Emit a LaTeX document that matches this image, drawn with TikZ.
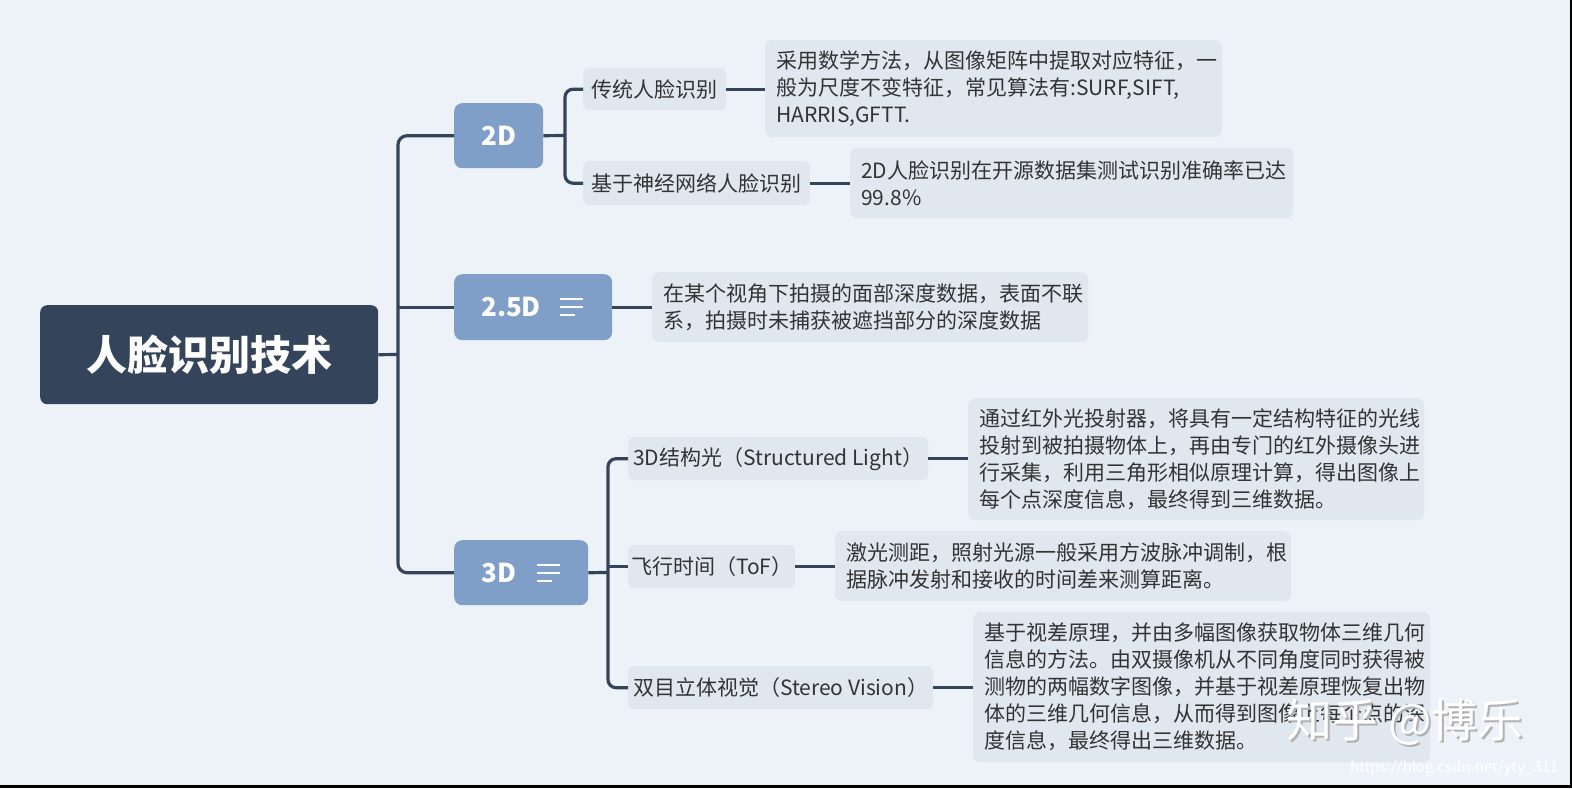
\documentclass[tikz,border=0pt]{standalone}
\usepackage{fontspec}
\usetikzlibrary{calc}
\setmainfont{Noto Sans CJK SC}
\definecolor{bgc}{HTML}{EDF2F9}
\definecolor{rootc}{HTML}{34455B}
\definecolor{lvlc}{HTML}{7F9FC8}
\definecolor{boxc}{HTML}{E1E7EF}
\definecolor{linec}{HTML}{34455B}
\definecolor{txtc}{HTML}{333333}
\tikzset{
  rootbox/.style={fill=rootc, rounded corners=7pt, text=white, font=\fontsize{41}{41}\selectfont\bfseries, anchor=north west, inner sep=0pt},
  lvlbox/.style={fill=lvlc, rounded corners=8pt, text=white, font=\fontsize{26}{26}\selectfont\bfseries, anchor=north west, inner sep=0pt},
  subbox/.style={fill=boxc, rounded corners=6pt, text=txtc, font=\fontsize{21}{27}\selectfont, anchor=north west, inner sep=0pt},
  descbox/.style={fill=boxc, rounded corners=7pt, text=txtc, font=\fontsize{21}{27}\selectfont, anchor=north west, inner xsep=11pt, inner ysep=0pt, align=left},
  conn/.style={draw=linec, line width=3.2pt},
  icon/.style={draw=white, line width=2pt},
}
\begin{document}
\begin{tikzpicture}[x=1pt,y=-1pt]
\fill[bgc] (0,0) rectangle (1572,788);
\useasboundingbox (0,0) rectangle (1572,788);
\fill[black] (0,785) rectangle (1572,788);
\fill[black] (1570,0) rectangle (1572,788);

% root
\node[rootbox, minimum width=338pt, minimum height=99pt] (root) at (40,305) {人脸识别技术};

% level 1
\node[lvlbox, minimum width=89pt, minimum height=65pt] (n2d) at (454,103) {2D};
\node[lvlbox, minimum height=66pt, inner xsep=27pt, text width=104pt, align=left] (n25) at (454,274) {2.5D};
\node[lvlbox, minimum height=65pt, inner xsep=27pt, text width=80pt, align=left] (n3d) at (454,540) {3D};

% icons
\draw[icon] ($(n25.east)+(-52,-8)$) -- ++(23,0);
\draw[icon] ($(n25.east)+(-52,0)$) -- ++(23,0);
\draw[icon] ($(n25.east)+(-52,8)$) -- ++(15,0);
\draw[icon] ($(n3d.east)+(-51,-7.5)$) -- ++(23,0);
\draw[icon] ($(n3d.east)+(-51,0)$) -- ++(23,0);
\draw[icon] ($(n3d.east)+(-51,8)$) -- ++(15,0);

% 2D children
\node[subbox, minimum width=143pt, minimum height=42pt] (c1) at (583,68) {传统人脸识别};
\node[descbox, text width=435pt, minimum height=97pt] (d1) at (765,40) {采用数学方法，从图像矩阵中提取对应特征，一\\般为尺度不变特征，常见算法有:SURF,SIFT,\\HARRIS,GFTT.};
\node[subbox, minimum width=227pt, minimum height=44pt] (c2) at (583,161) {基于神经网络人脸识别};
\node[descbox, text width=421pt, minimum height=70pt] (d2) at (850,148) {2D人脸识别在开源数据集测试识别准确率已达\\99.8\%};

% 2.5D child
\node[descbox, text width=414pt, minimum height=70pt] (d3) at (652,272) {在某个视角下拍摄的面部深度数据，表面不联\\系，拍摄时未捕获被遮挡部分的深度数据};

% 3D children
\node[subbox, minimum width=300pt, minimum height=43pt] (c4) at (628,437) {3D结构光（Structured Light）};
\node[descbox, text width=434pt, minimum height=122pt] (d4) at (968,398) {通过红外光投射器，将具有一定结构特征的光线\\投射到被拍摄物体上，再由专门的红外摄像头进\\行采集，利用三角形相似原理计算，得出图像上\\每个点深度信息，最终得到三维数据。};
\node[subbox, minimum width=167pt, minimum height=43pt] (c5) at (628,545) {飞行时间（ToF）};
\node[descbox, text width=434pt, minimum height=70pt] (d5) at (835,531) {激光测距，照射光源一般采用方波脉冲调制，根\\据脉冲发射和接收的时间差来测算距离。};
\node[subbox, minimum width=305pt, minimum height=43pt] (c6) at (628,666) {双目立体视觉（Stereo Vision）};
\node[descbox, text width=435pt, minimum height=150pt] (d6) at (973,612) {基于视差原理，并由多幅图像获取物体三维几何\\信息的方法。由双摄像机从不同角度同时获得被\\测物的两幅数字图像，并基于视差原理恢复出物\\体的三维几何信息，从而得到图像上每个点的深\\度信息，最终得出三维数据。};

% trunk connectors
\coordinate (t1) at (398,354.5);
\draw[conn] (root.east) -- (t1);
\draw[conn, rounded corners=9pt] (n2d.west) -| (t1) |- (n3d.west);
\draw[conn] (n25.west) -- (n25.west -| t1);

\coordinate (s1) at (565,135.5);
\draw[conn] (n2d.east) -- (s1);
\draw[conn, rounded corners=8pt] (c1.west) -| (s1) |- (c2.west);

\coordinate (s3) at (608,572.5);
\draw[conn] (n3d.east) -- (s3);
\draw[conn, rounded corners=8pt] (c4.west) -| (s3) |- (c6.west);
\draw[conn] (c5.west) -- (c5.west -| s3);

% child -> description
\draw[conn] (c1.east) -- (c1.east -| d1.west);
\draw[conn] (c2.east) -- (c2.east -| d2.west);
\draw[conn] (n25.east) -- (n25.east -| d3.west);
\draw[conn] (c4.east) -- (c4.east -| d4.west);
\draw[conn] (c5.east) -- (c5.east -| d5.west);
\draw[conn] (c6.east) -- (c6.east -| d6.west);

% watermark
\node[text=gray!60, font=\fontsize{46}{46}\selectfont] (wms) at (1407,724) {知乎 @博乐};
\node[text=white, font=\fontsize{46}{46}\selectfont] (wm) at (1405,722) {知乎 @博乐};
\node[text=white, font=\fontsize{15}{15}\selectfont, anchor=east] (url) at (1562,768) {https://blog.csdn.net/yty\_311};
\end{tikzpicture}
\end{document}
